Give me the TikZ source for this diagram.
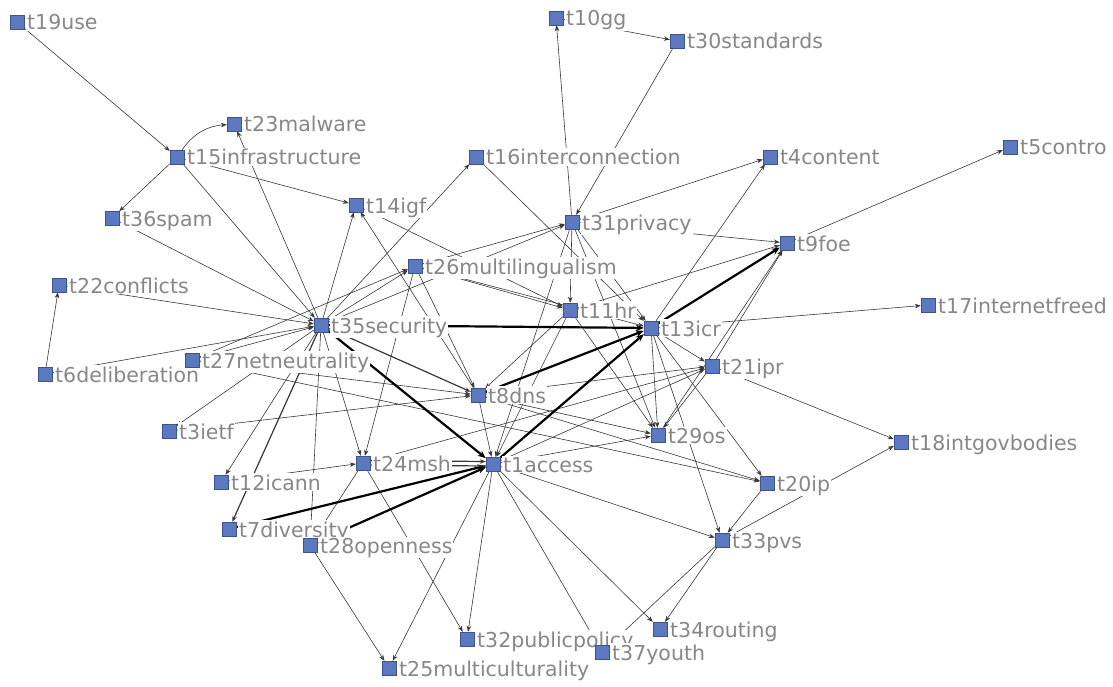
\documentclass[tikz,border=0pt]{standalone}
\usepackage{fontspec}
\setmainfont{DejaVu Sans}
\usetikzlibrary{arrows.meta}
\pgfdeclarelayer{bg}
\pgfsetlayers{bg,main}
\definecolor{sq}{RGB}{92,120,192}
\definecolor{sqd}{RGB}{62,82,140}
\definecolor{lab}{RGB}{135,135,135}
\definecolor{edgec}{RGB}{55,55,55}
\begin{document}
\begin{tikzpicture}[x=1pt,y=-1pt,
  sqnode/.style={rectangle,fill=sq,draw=sqd,line width=0.4pt,minimum size=14pt,inner sep=0pt},
  lbl/.style={anchor=base west,fill=white,inner sep=1pt,text=lab,font=\fontsize{20.5}{20.5}\selectfont},
  e/.style={draw=edgec,line width=0.6pt,-{Stealth[length=6pt,width=4.5pt]}},
  em/.style={e,line width=1.2pt},
  et/.style={draw=black,line width=2.2pt,-{Stealth[length=8pt,width=6.5pt]}},
]
\useasboundingbox (0,0) rectangle (1113,687);
% labels first
\foreach \id/\x/\y/\t in {
19/17/22/t19use, 23/234/124/t23malware, 15/177/157/t15infrastructure,
36/112/218/t36spam, 14/356/205/t14igf, 22/59/285/t22conflicts,
6/45/374/t6deliberation, 35/321/325/t35security, 27/192/360/t27netneutrality,
3/169/431/t3ietf, 12/221/482/t12icann, 7/229/529/t7diversity,
24/363/463/t24msh, 28/310/545/t28openness, 25/389/668/t25multiculturality,
32/467/639/t32publicpolicy, 37/602/652/t37youth, 34/660/629/t34routing,
1/493/464/t1access, 8/478/395/t8dns, 26/415/266/t26multilingualism,
16/476/157/t16interconnection, 10/556/18/t10gg, 30/677/41/t30standards,
31/572/222/t31privacy, 11/570/310/t11hr, 13/651/328/t13icr,
4/770/157/t4content, 5/1010/147/t5contro, 9/787/243/t9foe,
17/928/305/t17internetfreed, 21/712/366/t21ipr, 29/658/435/t29os,
18/901/442/t18intgovbodies, 20/767/483/t20ip, 33/722/540/t33pvs}
  {\node[lbl] (l\id) at (\x+9,\y+8) {\t};}
% squares
\foreach \id/\x/\y in {
19/17/22, 23/234/124, 15/177/157, 36/112/218, 14/356/205, 22/59/285,
6/45/374, 35/321/325, 27/192/360, 3/169/431, 12/221/482, 7/229/529,
24/363/463, 28/310/545, 25/389/668, 32/467/639, 37/602/652, 34/660/629,
1/493/464, 8/478/395, 26/415/266, 16/476/157, 10/556/18, 30/677/41,
31/572/222, 11/570/310, 13/651/328, 4/770/157, 5/1010/147, 9/787/243,
17/928/305, 21/712/366, 29/658/435, 18/901/442, 20/767/483, 33/722/540}
  {\node[sqnode] (n\id) at (\x,\y) {};}
% edges
\begin{pgfonlayer}{bg}
\foreach \a/\b in {
19/15, 35/23, 15/14, 15/35, 36/35, 22/35, 6/35, 27/35,
35/14, 35/26, 27/26, 35/16, 35/31, 35/24, 35/3, 35/12, 35/28,
26/24, 26/8, 26/11, 26/31, 26/13, 14/11, 8/14, 16/13,
31/10, 10/30, 30/31, 31/4, 31/9, 31/11, 31/13, 31/29, 31/1,
13/4, 9/5, 11/9, 21/9, 29/9, 13/17, 13/21, 13/29, 13/20, 13/33,
21/29, 21/18, 33/18, 20/33, 1/33, 1/34, 1/37, 33/37, 33/34,
1/32, 1/25, 28/25, 24/32, 24/28, 12/24, 3/8, 27/8, 27/20,
8/1, 8/29, 8/20, 8/21, 1/21, 1/29, 24/21, 11/1, 11/8, 11/29}
  {\draw[e] (n\a) -- (n\b);}
\draw[e] (n15) to[bend left=25] (n23);
\draw[e,{Stealth[length=6pt,width=4.5pt]}-] (n36) -- (n15);
\draw[e,{Stealth[length=6pt,width=4.5pt]}-] (n22) -- (n6);
\draw[em] (n35) -- (n8);
\draw[em] (n35) -- (n7);
\draw[et] (n35) -- (n13);
\draw[et] (n35) -- (n1);
\draw[et] (n1) -- (n13);
\draw[et] (n8) -- (n13);
\draw[et] (n13) -- (n9);
\draw[et] (n7) -- (n1);
\draw[et] (n28) -- (n1);
\draw[em] ([yshift=2.5pt]n24.east) -- ([yshift=2.5pt]n1.west);
\draw[em] ([yshift=-2pt]n1.west) -- ([yshift=-2pt]n24.east);
\end{pgfonlayer}
\end{tikzpicture}
\end{document}
